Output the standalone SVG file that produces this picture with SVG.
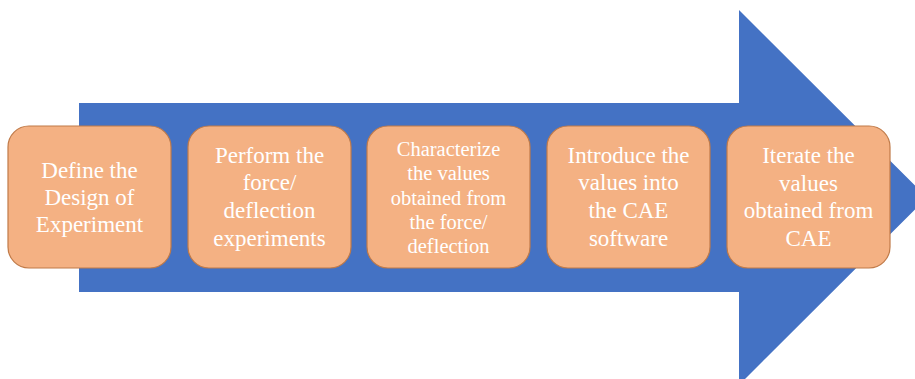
<svg xmlns="http://www.w3.org/2000/svg" width="915" height="379" viewBox="0 0 915 379">
<style>
.box{fill:#F4B183;stroke:#C07A48;stroke-width:1.2}
.t{fill:#ffffff;text-anchor:middle;font-size:23px}
.s{font-size:20.5px}
</style>
<rect width="915" height="379" fill="#ffffff"/>
<g id="arrow">
<polygon points="79,103 739,103 739,10 927,197.5 739,385 739,292 79,292" fill="#4472C4"/>
</g>
<g id="connectors"></g>
<g font-family="Liberation Serif, DejaVu Serif, serif">
<g id="n1">
<rect class="box" x="8" y="126" width="163" height="142" rx="21"/>
<text class="t" x="89.5" y="178">Define the</text>
<text class="t" x="89.5" y="205">Design of</text>
<text class="t" x="89.5" y="232">Experiment</text>
</g>
<g id="n2">
<rect class="box" x="188" y="126" width="163" height="142" rx="21"/>
<text class="t" x="269.5" y="163">Perform the</text>
<text class="t" x="269.5" y="190">force/</text>
<text class="t" x="269.5" y="218">deflection</text>
<text class="t" x="269.5" y="246">experiments</text>
</g>
<g id="n3">
<rect class="box" x="367" y="126" width="163" height="142" rx="21"/>
<text class="t s" x="448.5" y="156">Characterize</text>
<text class="t s" x="448.5" y="180">the values</text>
<text class="t s" x="448.5" y="205">obtained from</text>
<text class="t s" x="448.5" y="229">the force/</text>
<text class="t s" x="448.5" y="253">deflection</text>
</g>
<g id="n4">
<rect class="box" x="547" y="126" width="163" height="142" rx="21"/>
<text class="t" x="628.5" y="163">Introduce the</text>
<text class="t" x="628.5" y="190">values into</text>
<text class="t" x="628.5" y="218">the CAE</text>
<text class="t" x="628.5" y="246">software</text>
</g>
<g id="n5">
<rect class="box" x="727" y="126" width="163" height="142" rx="21"/>
<text class="t" x="808.5" y="163">Iterate the</text>
<text class="t" x="808.5" y="191">values</text>
<text class="t" x="808.5" y="218">obtained from</text>
<text class="t" x="808.5" y="246">CAE</text>
</g>
</g>
</svg>
